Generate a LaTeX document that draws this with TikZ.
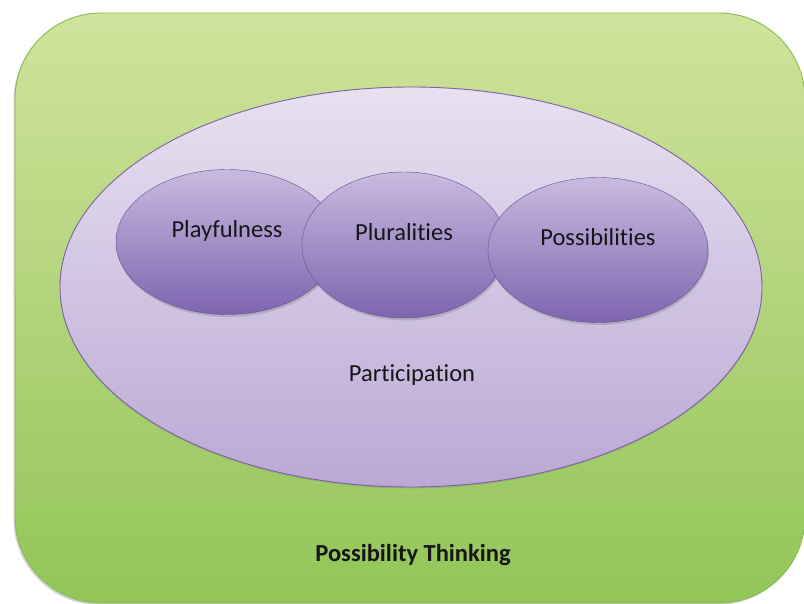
\documentclass[tikz,border=0pt]{standalone}
\usepackage{fontspec}
\setmainfont{Carlito}[RawFeature={-liga;-clig;-dlig;-calt}]
\usepackage{xcolor}
\usepackage{tikz}
\usetikzlibrary{shapes,positioning,calc,shadows}

\definecolor{grtop}{HTML}{D0E39C}
\definecolor{grbot}{HTML}{92C558}
\definecolor{grline}{HTML}{86BC50}
\definecolor{lvtop}{HTML}{E7E1F0}
\definecolor{lvbot}{HTML}{BBA8D5}
\definecolor{lvline}{HTML}{7A61A8}
\definecolor{pvtop}{HTML}{C9BBDF}
\definecolor{pvbot}{HTML}{7E64B0}
\definecolor{txt}{HTML}{161616}

\begin{document}
\begin{tikzpicture}[x=1pt, y=-1pt,
    bubble/.style={ellipse, draw=pvbot!80!black, line width=0.4pt,
        top color=pvtop, bottom color=pvbot, minimum width=222pt, minimum height=145pt,
        drop shadow={opacity=0.35, shadow xshift=1pt, shadow yshift=-2.5pt}},
    word/.style={text=txt, font=\fontsize{24.5}{26}\selectfont}]
    \useasboundingbox (0,0) rectangle (804,604);
    % outer frame
    \draw[grline, line width=0.9pt, rounded corners=86pt, top color=grtop, bottom color=grbot,
        drop shadow={opacity=0.35, shadow xshift=-1.5pt, shadow yshift=-2pt}]
        (15,13) rectangle (805,603);
    % participation
    \node[ellipse, draw=lvline, line width=0.9pt, top color=lvtop, bottom color=lvbot,
        minimum width=702pt, minimum height=400pt,
        drop shadow={opacity=0.3, shadow xshift=0pt, shadow yshift=-1.5pt}] (particip) at (411,287) {};
    % the three P's
    \node[bubble] (playful) at (227,242) {};
    \node[bubble, minimum width=204pt, minimum height=146pt] (plural) at (404,245) {};
    \node[bubble, minimum width=220pt, minimum height=145pt] (possib) at (598,250) {};
    \node[word] at ([yshift=11pt]playful.center) {Playfulness};
    \node[word] at ([yshift=13pt]plural.center) {Pluralities};
    \node[word] at ([yshift=13pt]possib.center) {Possibilities};
    \node[word] (partlabel) at (412,375) {Participation};
    \node[word, font=\fontsize{24.5}{26}\selectfont\bfseries] (ptlabel) at (413,555) {Possibility Thinking};
\end{tikzpicture}
\end{document}
